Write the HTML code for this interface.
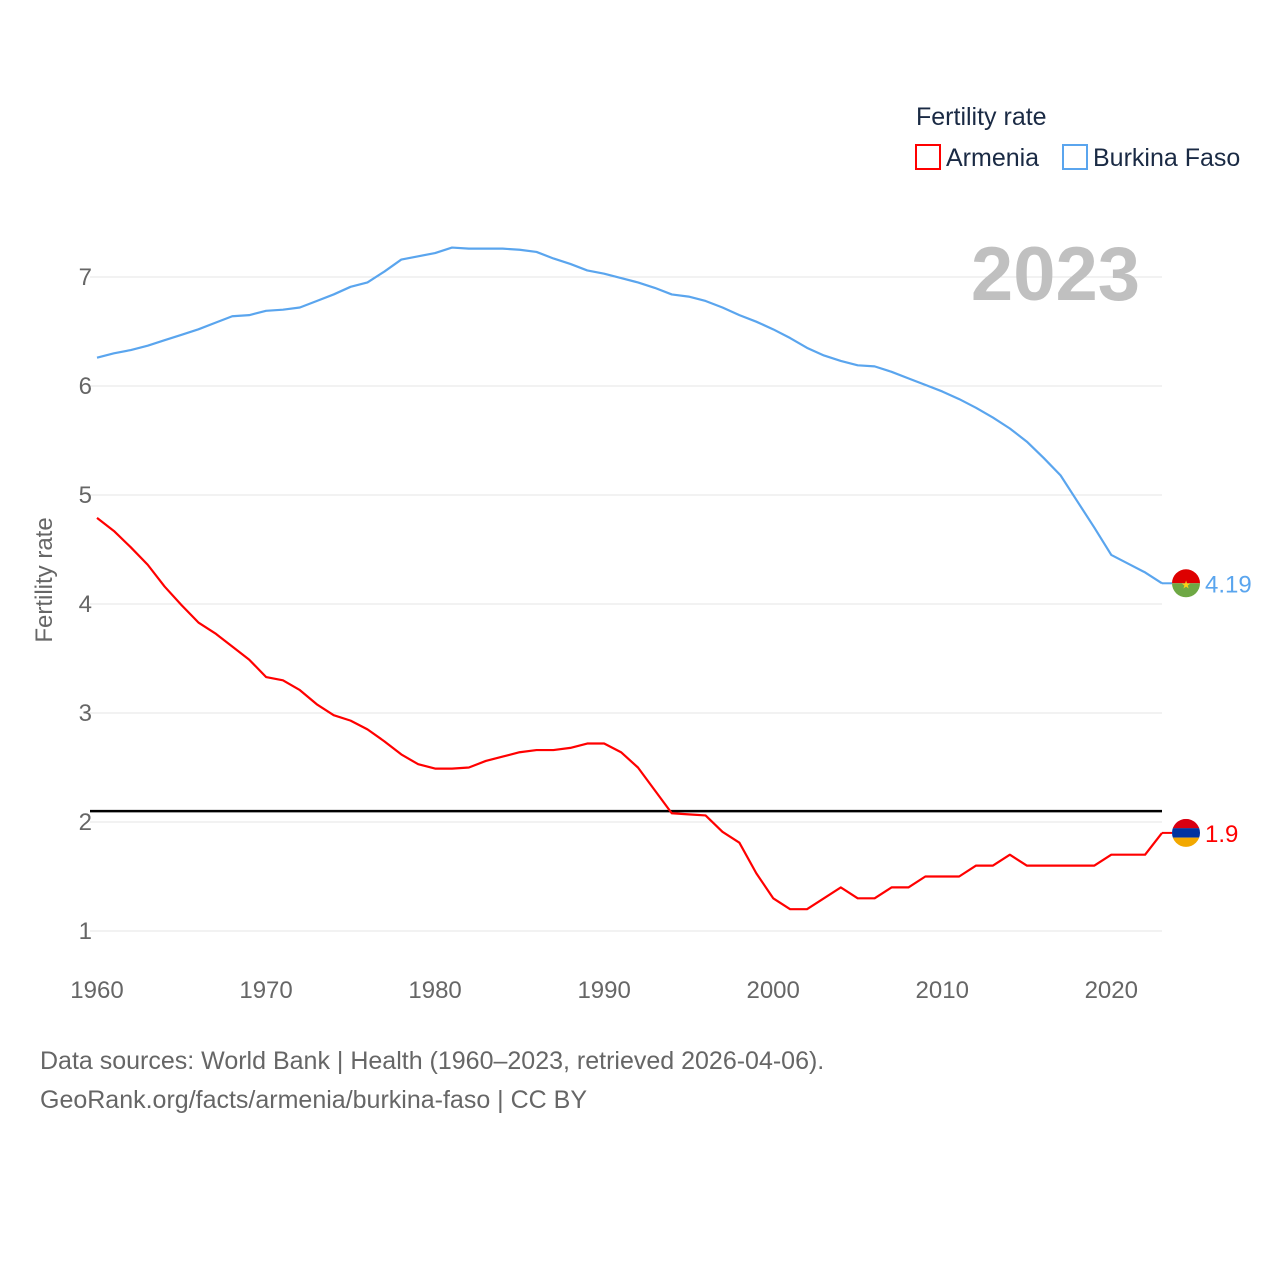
<!DOCTYPE html>
<html><head><meta charset="utf-8"><style>
body{margin:0;background:#fff;}
svg text{font-family:"Liberation Sans",sans-serif;}
</style></head><body>
<svg id="chart" width="1280" height="1280" viewBox="0 0 1280 1280">
<g id="grid"></g>
<g id="ylabels"></g>
<g id="xlabels"></g>
<text x="52" y="580" font-size="24" fill="#666" text-anchor="middle" transform="rotate(-90 52 580)">Fertility rate</text>
<text x="1140" y="300" font-size="76" font-weight="bold" fill="#c0c0c0" text-anchor="end">2023</text>
<text x="916" y="125" font-size="25" fill="#1a2a44">Fertility rate</text>
<g><rect x="916" y="145" width="24" height="24" fill="none" stroke="#f00" stroke-width="2"/><text x="946" y="166" font-size="25" fill="#1a2a44">Armenia</text></g>
<g><rect x="1063" y="145" width="24" height="24" fill="none" stroke="#5aa5ee" stroke-width="2"/><text x="1093" y="166" font-size="25" fill="#1a2a44">Burkina Faso</text></g>
<g id="series"></g>
<text x="40" y="1069" font-size="25" fill="#666">Data sources: World Bank | Health (1960–2023, retrieved 2026-04-06).</text>
<text x="40" y="1108" font-size="25" fill="#666">GeoRank.org/facts/armenia/burkina-faso | CC BY</text>
</svg>
<script>
const years=[];for(let y=1960;y<=2023;y++)years.push(y);
const burkina=[6.26,6.30,6.33,6.37,6.42,6.47,6.52,6.58,6.64,6.65,6.69,6.70,6.72,6.78,6.84,6.91,6.95,7.05,7.16,7.19,7.22,7.27,7.26,7.26,7.26,7.25,7.23,7.17,7.12,7.06,7.03,6.99,6.95,6.90,6.84,6.82,6.78,6.72,6.65,6.59,6.52,6.44,6.35,6.28,6.23,6.19,6.18,6.13,6.07,6.01,5.95,5.88,5.80,5.71,5.61,5.49,5.34,5.18,4.94,4.70,4.45,4.37,4.29,4.19];
const armenia=[4.79,4.67,4.52,4.36,4.16,3.99,3.83,3.73,3.61,3.49,3.33,3.30,3.21,3.08,2.98,2.93,2.85,2.74,2.62,2.53,2.49,2.49,2.50,2.56,2.60,2.64,2.66,2.66,2.68,2.72,2.72,2.64,2.50,2.29,2.08,2.07,2.06,1.91,1.81,1.53,1.30,1.20,1.20,1.30,1.40,1.30,1.30,1.40,1.40,1.50,1.50,1.50,1.60,1.60,1.70,1.60,1.60,1.60,1.60,1.60,1.70,1.70,1.70,1.90];
const yTicks=[1,2,3,4,5,6,7];
const xTicks=[1960,1970,1980,1990,2000,2010,2020];
const replacementRate=2.1;
const X=y=>97+(y-1960)*(1162-97)/63;
const Y=v=>931-(v-1)*109;
const NS='http://www.w3.org/2000/svg';
function mk(tag,attrs,parent,txt){const e=document.createElementNS(NS,tag);for(const k in attrs)e.setAttribute(k,attrs[k]);if(txt!==undefined)e.textContent=txt;parent.appendChild(e);return e;}
const grid=document.getElementById('grid'),yl=document.getElementById('ylabels'),xl=document.getElementById('xlabels'),ser=document.getElementById('series');
yTicks.forEach(t=>{
 const l=mk('line',{x1:90,x2:1162,y1:Y(t),y2:Y(t),stroke:'#e4e4e4','stroke-width':1},grid);
 
 
 const tx=mk('text',{x:92,y:Y(t)+8,'font-size':24,fill:'#666','text-anchor':'end'},yl,String(t));
 
 
});
xTicks.forEach(t=>{
 const tx=mk('text',{x:X(t),y:998,'font-size':24,fill:'#666','text-anchor':'middle'},xl,String(t));
 
 
});
const ref=mk('line',{x1:90,x2:1162,y1:Y(replacementRate),y2:Y(replacementRate),stroke:'#000','stroke-width':2.5},ser);


function line(vals,color,name){
 const p=mk('polyline',{points:vals.map((v,i)=>X(years[i])+','+Y(v)).join(' '),fill:'none',stroke:color,'stroke-width':2.2,'stroke-linejoin':'round'},ser);
 
 
}
line(burkina,'#5aa5ee','burkina-faso-line');
line(armenia,'#f00','armenia-line');
// end markers
const bl=burkina[burkina.length-1],al=armenia[armenia.length-1];
const bx=1186,by=Y(bl);
let c=mk('line',{x1:1162,x2:1172,y1:by,y2:by,stroke:'#5aa5ee','stroke-width':2},ser);
let g=mk('g',{},ser);


mk('path',{d:`M${bx-14},${by} A14,14 0 0 1 ${bx+14},${by} Z`,fill:'#de0000'},g);
mk('path',{d:`M${bx-14},${by} A14,14 0 0 0 ${bx+14},${by} Z`,fill:'#6ea844'},g);
mk('text',{x:bx,y:by+5,'font-size':11,fill:'#fcd116','text-anchor':'middle'},g,'★');
let t=mk('text',{x:1205,y:by+9,'font-size':24,fill:'#5aa5ee'},ser,String(bl));


const ax=1186,ay=Y(al);
mk('line',{x1:1162,x2:1172,y1:ay,y2:ay,stroke:'#f00','stroke-width':2},ser);
g=mk('g',{},ser);


mk('clipPath',{id:'ac'},g);
mk('circle',{cx:ax,cy:ay,r:14},g.lastChild);
mk('rect',{x:ax-14,y:ay-14,width:28,height:9.4,fill:'#d90012','clip-path':'url(#ac)'},g);
mk('rect',{x:ax-14,y:ay-4.7,width:28,height:9.4,fill:'#0033a0','clip-path':'url(#ac)'},g);
mk('rect',{x:ax-14,y:ay+4.7,width:28,height:9.4,fill:'#f2a800','clip-path':'url(#ac)'},g);
t=mk('text',{x:1205,y:ay+9,'font-size':24,fill:'#f00'},ser,String(al));


</script>
</body></html>
